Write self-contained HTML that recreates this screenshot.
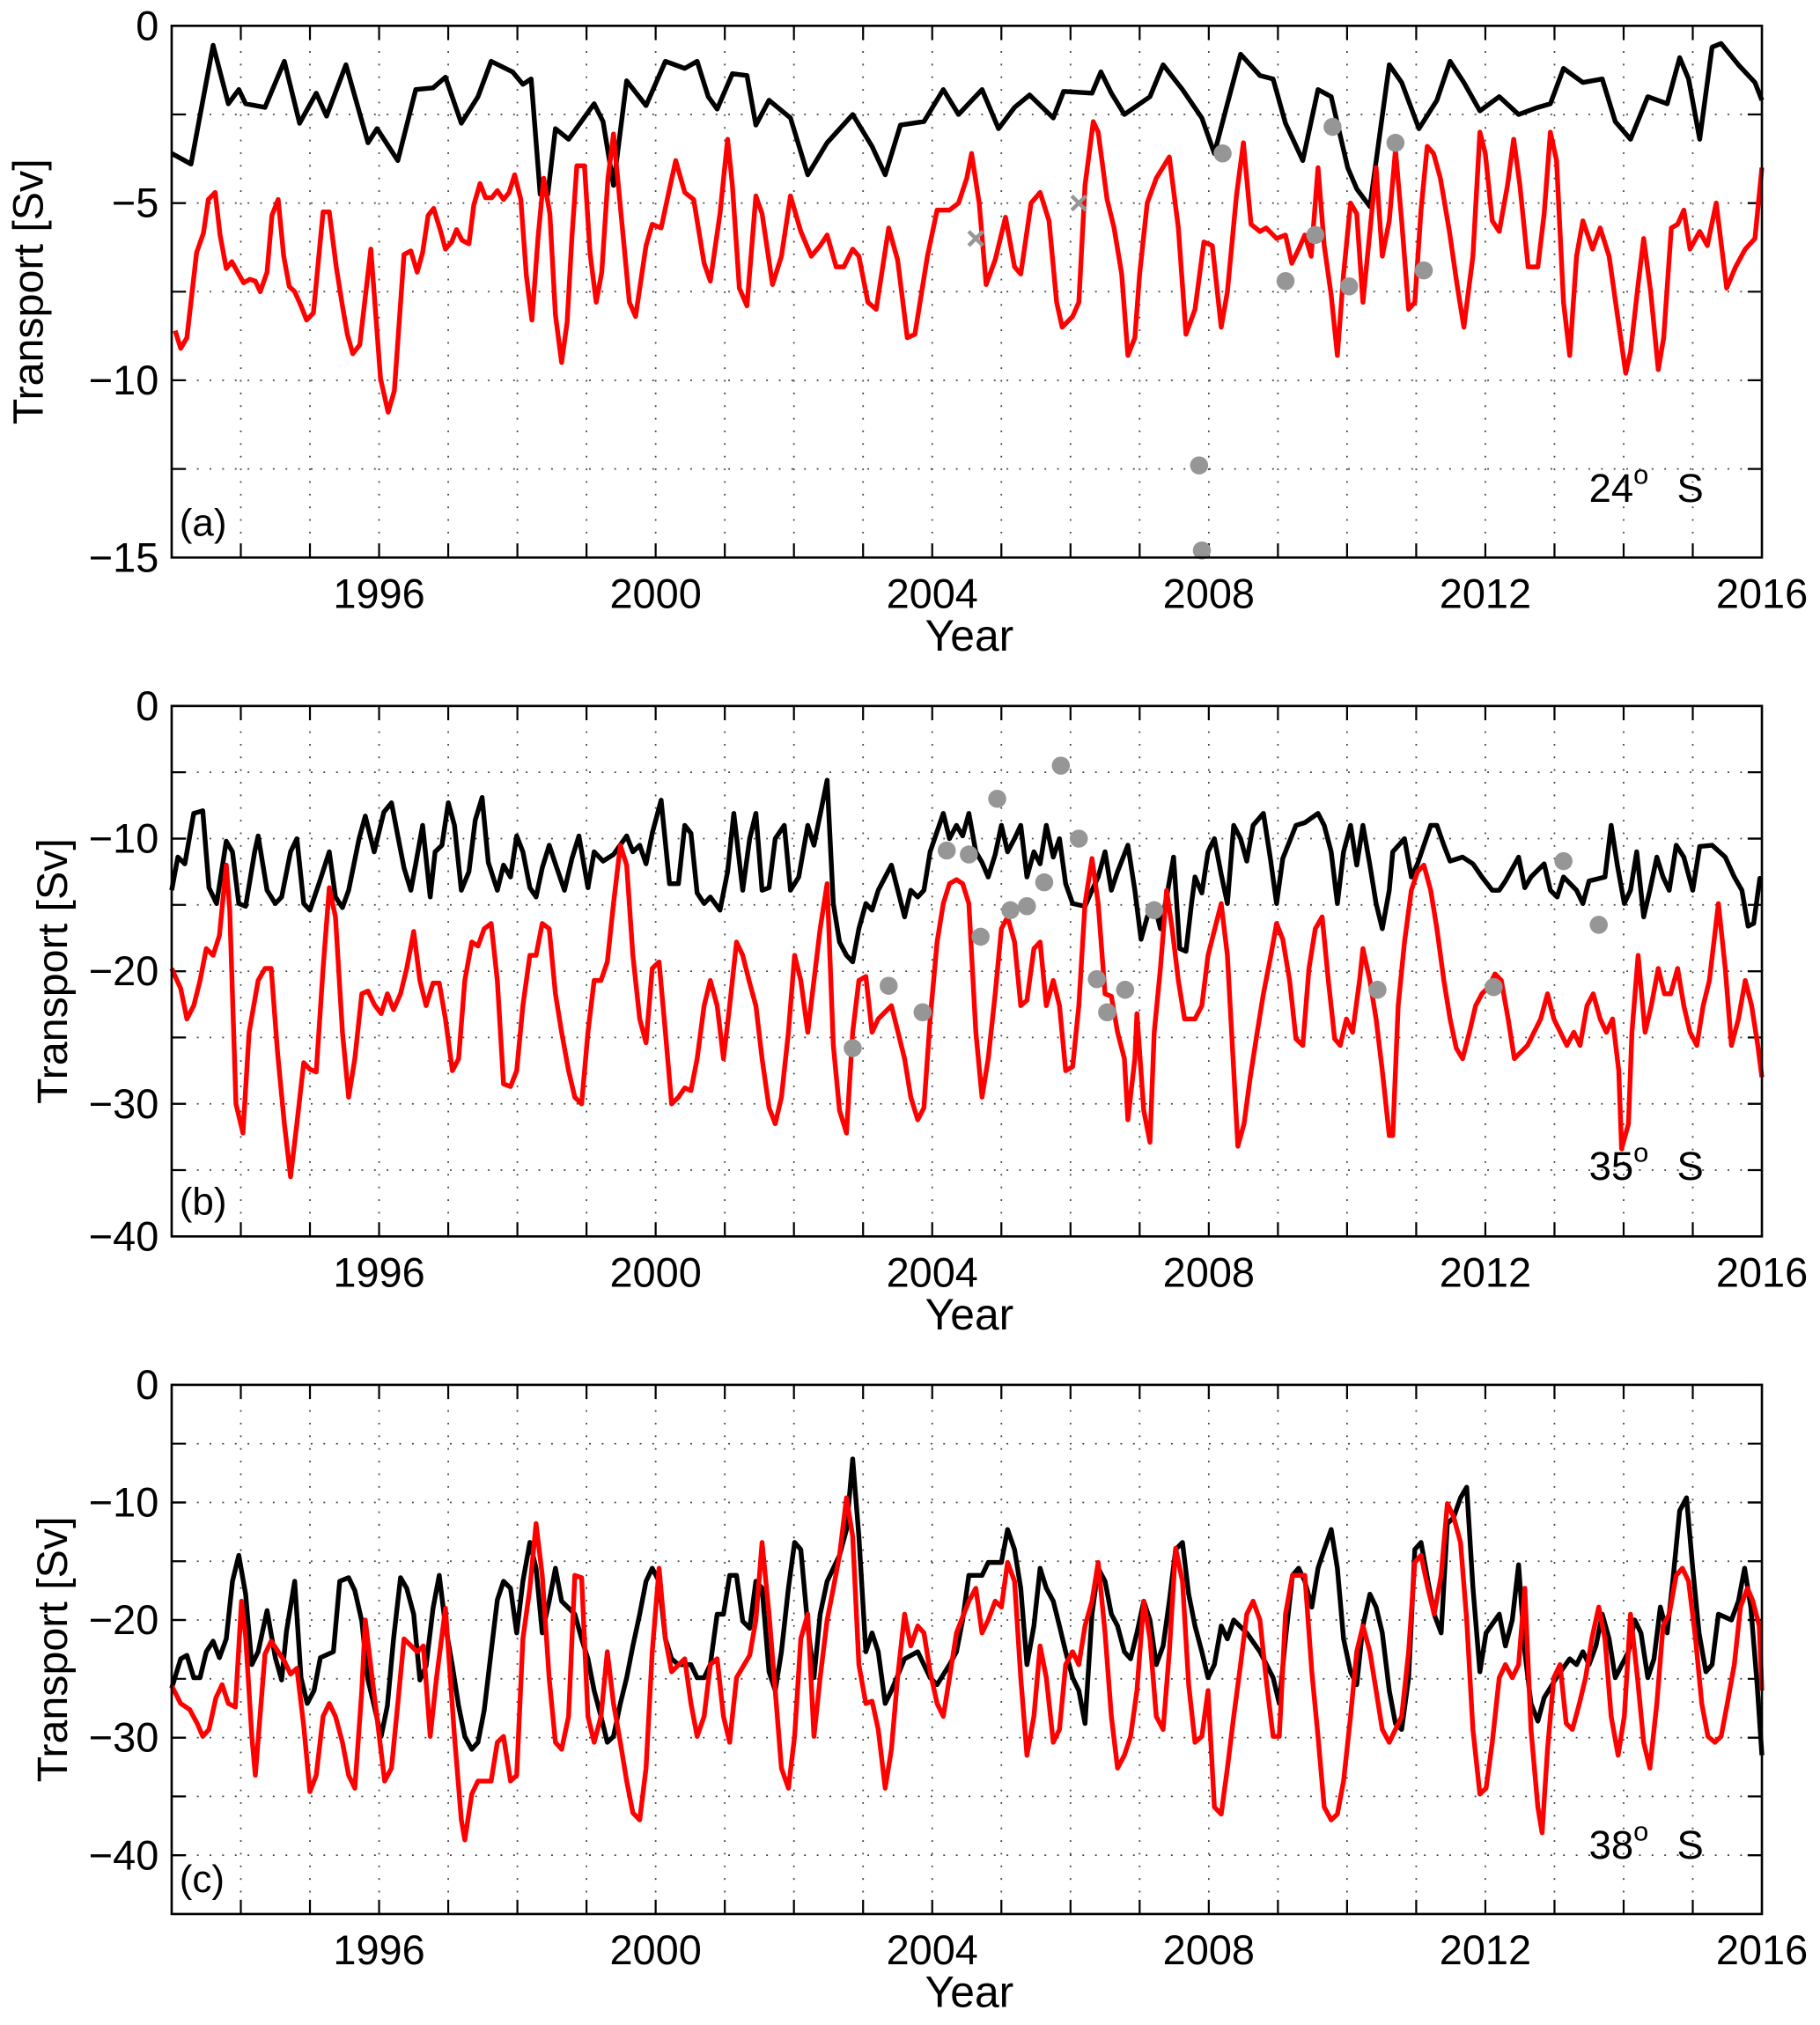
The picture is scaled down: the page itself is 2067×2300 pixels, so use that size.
<!DOCTYPE html>
<html><head><meta charset="utf-8"><title>Transport time series</title>
<style>html,body{margin:0;padding:0;background:#fff}svg{display:block}text{font-family:"Liberation Sans",Arial,sans-serif;fill:#000}</style>
</head><body>
<svg id="fig" width="2067" height="2300" viewBox="0 0 1410 1569" preserveAspectRatio="none" xmlns="http://www.w3.org/2000/svg"></svg>
<script>
// ---------- Panel (a) 24S ----------
const aBlackT=[1993.0,1993.28,1993.6,1993.82,1993.97,1994.07,1994.35,1994.63,1994.85,1995.09,1995.24,1995.52,1995.84,1995.97,1996.27,1996.53,1996.78,1996.96,1997.19,1997.43,1997.62,1997.93,1998.08,1998.2,1998.33,1998.44,1998.55,1998.74,1999.11,1999.24,1999.39,1999.58,1999.86,2000.14,2000.42,2000.6,2000.76,2000.89,2001.11,2001.32,2001.45,2001.64,2001.95,2002.2,2002.48,2002.85,2003.13,2003.32,2003.54,2003.88,2004.16,2004.38,2004.72,2004.96,2005.19,2005.41,2005.75,2005.9,2006.31,2006.44,2006.59,2006.78,2007.15,2007.34,2007.62,2007.9,2008.08,2008.27,2008.46,2008.74,2008.93,2009.11,2009.36,2009.58,2009.77,2010.01,2010.14,2010.33,2010.61,2010.79,2011.04,2011.3,2011.49,2011.69,2011.92,2012.2,2012.48,2012.76,2012.94,2013.13,2013.41,2013.69,2013.88,2014.1,2014.35,2014.63,2014.81,2014.94,2015.1,2015.28,2015.41,2015.66,2015.9,2016.0];
const aBlackV=[-3.6,-3.9,-0.55,-2.2,-1.8,-2.2,-2.3,-1.0,-2.75,-1.9,-2.55,-1.1,-3.3,-2.9,-3.8,-1.8,-1.75,-1.45,-2.75,-2.0,-1.0,-1.3,-1.65,-1.5,-4.75,-4.75,-2.9,-3.2,-2.2,-2.7,-4.5,-1.55,-2.25,-1.0,-1.2,-1.0,-2.0,-2.35,-1.35,-1.4,-2.8,-2.1,-2.6,-4.2,-3.3,-2.5,-3.4,-4.2,-2.8,-2.7,-1.8,-2.5,-1.8,-2.9,-2.3,-1.95,-2.6,-1.85,-1.9,-1.3,-1.9,-2.5,-2.0,-1.1,-1.8,-2.6,-3.6,-2.2,-0.8,-1.4,-1.5,-2.75,-3.8,-1.8,-2.0,-4.0,-4.6,-5.1,-1.1,-1.6,-2.9,-2.1,-1.0,-1.6,-2.4,-2.0,-2.5,-2.3,-2.2,-1.2,-1.6,-1.5,-2.7,-3.2,-2.0,-2.2,-0.9,-1.5,-3.2,-0.6,-0.5,-1.1,-1.6,-2.1];
const aRedT=[1993.05,1993.13,1993.22,1993.36,1993.46,1993.53,1993.63,1993.70,1993.79,1993.87,1994.04,1994.13,1994.21,1994.28,1994.38,1994.45,1994.54,1994.62,1994.70,1994.78,1994.87,1994.95,1995.05,1995.19,1995.28,1995.38,1995.47,1995.54,1995.62,1995.72,1995.88,1996.02,1996.13,1996.22,1996.36,1996.46,1996.55,1996.63,1996.71,1996.79,1996.89,1996.96,1997.05,1997.12,1997.2,1997.3,1997.37,1997.46,1997.54,1997.63,1997.71,1997.8,1997.88,1997.96,1998.05,1998.13,1998.21,1998.3,1998.38,1998.47,1998.55,1998.64,1998.72,1998.79,1998.86,1998.97,1999.05,1999.14,1999.22,1999.31,1999.39,1999.62,1999.71,1999.86,1999.95,2000.08,2000.2,2000.29,2000.42,2000.55,2000.7,2000.79,2000.93,2001.04,2001.11,2001.21,2001.32,2001.45,2001.54,2001.69,2001.82,2001.95,2002.1,2002.25,2002.38,2002.48,2002.61,2002.72,2002.85,2002.94,2003.07,2003.19,2003.37,2003.5,2003.64,2003.75,2003.93,2004.07,2004.25,2004.38,2004.5,2004.57,2004.68,2004.78,2004.91,2005.06,2005.19,2005.28,2005.43,2005.56,2005.69,2005.8,2005.88,2006.03,2006.12,2006.21,2006.33,2006.4,2006.53,2006.63,2006.74,2006.83,2006.93,2007.0,2007.11,2007.24,2007.43,2007.56,2007.67,2007.8,2007.93,2008.05,2008.18,2008.27,2008.4,2008.5,2008.61,2008.74,2008.83,2008.98,2009.11,2009.2,2009.3,2009.39,2009.48,2009.58,2009.67,2009.77,2009.86,2009.95,2010.05,2010.14,2010.23,2010.33,2010.42,2010.51,2010.61,2010.7,2010.79,2010.89,2010.98,2011.07,2011.16,2011.25,2011.35,2011.48,2011.59,2011.69,2011.82,2011.92,2012.0,2012.1,2012.2,2012.32,2012.41,2012.5,2012.62,2012.76,2012.85,2012.94,2013.03,2013.13,2013.22,2013.32,2013.41,2013.55,2013.66,2013.79,2013.92,2014.03,2014.1,2014.21,2014.29,2014.39,2014.5,2014.58,2014.69,2014.78,2014.87,2014.96,2015.1,2015.21,2015.34,2015.49,2015.62,2015.76,2015.9,2016.0];
const aRedV=[-8.6,-9.1,-8.8,-6.4,-5.85,-4.9,-4.7,-5.9,-6.85,-6.65,-7.25,-7.15,-7.2,-7.5,-6.95,-5.35,-4.9,-6.5,-7.35,-7.5,-7.9,-8.3,-8.1,-5.25,-5.25,-6.8,-7.9,-8.7,-9.25,-9.0,-6.3,-9.95,-10.9,-10.3,-6.45,-6.35,-6.95,-6.4,-5.35,-5.15,-5.8,-6.3,-6.1,-5.75,-6.05,-6.15,-5.05,-4.45,-4.85,-4.85,-4.65,-4.9,-4.7,-4.2,-4.9,-7.05,-8.3,-5.95,-4.3,-5.3,-8.15,-9.5,-8.35,-5.95,-3.95,-3.95,-6.4,-7.8,-6.95,-4.3,-3.05,-7.8,-8.2,-6.2,-5.6,-5.7,-4.6,-3.8,-4.7,-4.9,-6.7,-7.2,-5.3,-3.2,-4.5,-7.4,-7.9,-4.8,-5.3,-7.3,-6.5,-4.8,-5.8,-6.5,-6.2,-5.9,-6.8,-6.8,-6.3,-6.5,-7.8,-8.0,-5.7,-6.6,-8.8,-8.7,-6.5,-5.2,-5.2,-5.0,-4.3,-3.6,-5.0,-7.3,-6.6,-5.4,-6.8,-7.0,-5.0,-4.7,-5.5,-7.8,-8.5,-8.2,-7.8,-4.5,-2.7,-3.0,-4.9,-5.7,-7.0,-9.3,-8.8,-7.0,-5.0,-4.3,-3.7,-5.7,-8.7,-8.0,-6.1,-6.2,-8.5,-7.5,-4.8,-3.3,-5.6,-5.8,-5.7,-6.0,-5.9,-6.7,-6.3,-5.9,-6.5,-4.0,-6.2,-7.6,-9.3,-7.0,-5.0,-5.3,-7.8,-5.8,-4.0,-6.5,-5.5,-3.5,-5.5,-8.0,-7.8,-5.2,-3.4,-3.6,-4.3,-5.8,-7.3,-8.5,-6.5,-3.0,-3.6,-5.5,-5.8,-4.5,-3.2,-4.5,-6.8,-6.8,-5.3,-3.0,-3.8,-7.8,-9.3,-6.5,-5.5,-6.3,-5.7,-6.5,-8.3,-9.8,-9.2,-7.3,-6.0,-7.5,-9.7,-8.8,-5.7,-5.6,-5.2,-6.3,-5.8,-6.2,-5.0,-7.4,-6.8,-6.3,-6.0,-4.0];
const aDotT=[2007.9,2007.86,2008.2,2009.11,2009.54,2009.79,2010.03,2010.7,2011.11];
const aDotV=[-14.8,-12.4,-3.6,-7.2,-5.9,-2.85,-7.35,-3.3,-6.9];
const aCrossT=[2004.63,2006.12];
const aCrossV=[-6.0,-5.0];

// ---------- Panel (b) 35S ----------
const bBlackT=[1993.0,1993.09,1993.19,1993.32,1993.45,1993.54,1993.65,1993.79,1993.88,1993.97,1994.07,1994.2,1994.25,1994.38,1994.5,1994.59,1994.72,1994.81,1994.91,1995.0,1995.13,1995.28,1995.37,1995.47,1995.56,1995.71,1995.8,1995.93,1996.07,1996.18,1996.27,1996.36,1996.46,1996.53,1996.63,1996.74,1996.81,1996.91,1997.0,1997.09,1997.19,1997.3,1997.39,1997.49,1997.58,1997.71,1997.8,1997.9,1997.99,1998.08,1998.18,1998.27,1998.36,1998.46,1998.55,1998.68,1998.79,1998.89,1999.02,1999.11,1999.24,1999.39,1999.58,1999.67,1999.77,1999.86,1999.95,2000.08,2000.2,2000.33,2000.42,2000.51,2000.6,2000.7,2000.79,2000.93,2001.04,2001.13,2001.26,2001.36,2001.45,2001.54,2001.64,2001.73,2001.86,2001.95,2002.07,2002.2,2002.29,2002.48,2002.57,2002.66,2002.76,2002.85,2002.94,2003.04,2003.13,2003.22,2003.41,2003.6,2003.69,2003.79,2003.88,2003.97,2004.16,2004.25,2004.35,2004.44,2004.53,2004.63,2004.72,2004.81,2004.91,2005.0,2005.09,2005.19,2005.28,2005.37,2005.47,2005.56,2005.65,2005.75,2005.84,2005.93,2006.03,2006.21,2006.31,2006.4,2006.5,2006.59,2006.68,2006.83,2006.93,2007.02,2007.11,2007.21,2007.3,2007.39,2007.49,2007.58,2007.67,2007.75,2007.8,2007.9,2007.99,2008.08,2008.18,2008.27,2008.36,2008.46,2008.55,2008.64,2008.79,2008.89,2008.98,2009.07,2009.26,2009.39,2009.58,2009.67,2009.77,2009.86,2009.95,2010.05,2010.14,2010.23,2010.33,2010.42,2010.51,2010.61,2010.66,2010.83,2010.93,2011.02,2011.21,2011.3,2011.4,2011.49,2011.67,2011.82,2011.95,2012.1,2012.2,2012.29,2012.48,2012.57,2012.66,2012.85,2012.94,2013.04,2013.13,2013.32,2013.41,2013.5,2013.73,2013.82,2013.91,2014.01,2014.1,2014.19,2014.29,2014.38,2014.48,2014.57,2014.66,2014.76,2014.87,2015.0,2015.1,2015.28,2015.47,2015.6,2015.71,2015.8,2015.88,2015.97,2016.0];
const bBlackV=[-13.9,-11.4,-11.9,-8.1,-7.9,-13.7,-14.9,-10.2,-11.0,-14.9,-15.1,-11.0,-9.8,-13.9,-14.9,-14.4,-11.0,-10.0,-14.9,-15.4,-13.4,-11.0,-14.4,-15.2,-13.9,-10.0,-8.3,-11.0,-8.0,-7.3,-9.8,-12.2,-13.9,-11.9,-9.0,-14.4,-11.0,-10.5,-7.3,-9.0,-13.9,-12.5,-8.6,-6.9,-11.8,-13.9,-12.0,-12.9,-9.8,-11.0,-13.7,-14.4,-12.2,-10.5,-11.9,-13.9,-11.5,-9.8,-13.7,-11.0,-11.7,-11.2,-9.8,-11.0,-10.5,-11.9,-9.6,-7.1,-13.4,-13.4,-9.0,-9.6,-14.1,-14.9,-14.4,-15.4,-12.5,-8.1,-13.9,-10.0,-8.1,-13.9,-13.7,-10.0,-9.0,-13.9,-12.9,-9.0,-10.5,-5.6,-14.9,-17.8,-18.8,-19.3,-16.8,-14.9,-15.4,-13.9,-12.0,-15.9,-13.9,-14.4,-13.9,-11.0,-8.1,-10.0,-9.0,-9.8,-8.1,-11.0,-11.8,-12.9,-11.2,-9.0,-11.0,-10.0,-9.0,-12.9,-11.0,-11.9,-9.0,-11.4,-10.0,-13.4,-14.9,-15.1,-13.9,-12.9,-11.0,-13.9,-12.5,-10.5,-13.9,-17.6,-15.9,-14.9,-16.8,-14.4,-11.4,-18.3,-18.5,-14.9,-12.9,-14.1,-11.0,-10.0,-12.7,-14.9,-9.0,-10.0,-11.7,-9.0,-8.1,-11.5,-14.9,-11.5,-9.0,-8.8,-8.1,-9.0,-11.0,-14.9,-11.0,-9.0,-12.0,-9.0,-12.0,-14.9,-16.8,-13.9,-11.0,-10.0,-12.9,-11.9,-9.0,-9.0,-10.5,-11.7,-11.4,-11.9,-12.9,-13.9,-13.9,-13.2,-11.4,-13.7,-12.9,-11.9,-13.9,-14.4,-12.9,-13.9,-14.9,-13.2,-12.9,-9.0,-12.0,-14.9,-13.9,-11.0,-15.9,-13.9,-11.4,-12.9,-13.9,-10.5,-11.4,-13.9,-10.6,-10.5,-11.4,-12.9,-13.9,-16.6,-16.4,-13.0,-13.0];
const bRedT=[1993.0,1993.13,1993.22,1993.32,1993.41,1993.5,1993.6,1993.69,1993.79,1993.84,1993.93,1994.03,1994.12,1994.25,1994.35,1994.44,1994.53,1994.63,1994.72,1994.81,1994.91,1995.0,1995.09,1995.19,1995.28,1995.37,1995.47,1995.56,1995.65,1995.75,1995.84,1995.93,1996.03,1996.12,1996.21,1996.31,1996.4,1996.5,1996.59,1996.68,1996.78,1996.87,1996.96,1997.06,1997.15,1997.24,1997.34,1997.43,1997.52,1997.62,1997.71,1997.8,1997.9,1997.99,1998.08,1998.18,1998.27,1998.36,1998.46,1998.55,1998.64,1998.74,1998.83,1998.93,1999.02,1999.11,1999.21,1999.3,1999.39,1999.49,1999.58,1999.67,1999.77,1999.86,1999.95,2000.05,2000.14,2000.23,2000.33,2000.42,2000.51,2000.6,2000.7,2000.79,2000.89,2000.98,2001.07,2001.17,2001.26,2001.36,2001.45,2001.54,2001.64,2001.73,2001.82,2001.92,2002.01,2002.1,2002.2,2002.29,2002.38,2002.48,2002.57,2002.66,2002.76,2002.85,2002.94,2003.04,2003.13,2003.22,2003.41,2003.6,2003.69,2003.79,2003.88,2003.97,2004.07,2004.16,2004.25,2004.35,2004.44,2004.53,2004.63,2004.72,2004.81,2004.91,2005.0,2005.09,2005.19,2005.28,2005.37,2005.47,2005.56,2005.65,2005.75,2005.84,2005.93,2006.03,2006.12,2006.21,2006.31,2006.4,2006.5,2006.59,2006.68,2006.78,2006.83,2006.93,2006.96,2007.06,2007.15,2007.21,2007.3,2007.39,2007.47,2007.56,2007.65,2007.8,2007.9,2007.99,2008.18,2008.27,2008.36,2008.42,2008.51,2008.6,2008.7,2008.79,2008.89,2008.98,2009.07,2009.17,2009.26,2009.36,2009.45,2009.54,2009.64,2009.73,2009.82,2009.9,2009.99,2010.08,2010.18,2010.23,2010.33,2010.42,2010.51,2010.61,2010.66,2010.74,2010.83,2010.93,2011.02,2011.11,2011.21,2011.3,2011.4,2011.49,2011.58,2011.67,2011.77,2011.86,2011.95,2012.05,2012.14,2012.23,2012.33,2012.42,2012.61,2012.8,2012.9,2012.99,2013.18,2013.28,2013.37,2013.47,2013.56,2013.66,2013.75,2013.84,2013.93,2013.97,2014.07,2014.12,2014.21,2014.31,2014.4,2014.5,2014.59,2014.68,2014.78,2014.87,2014.96,2015.06,2015.15,2015.24,2015.37,2015.47,2015.56,2015.66,2015.76,2015.85,2015.94,2016.0];
const bRedV=[-19.8,-21.3,-23.6,-22.6,-20.7,-18.3,-18.8,-17.3,-12.0,-15.4,-30.0,-32.2,-24.6,-20.7,-19.8,-19.8,-26.1,-31.5,-35.5,-31.5,-26.9,-27.4,-27.6,-19.8,-13.7,-15.9,-24.6,-29.5,-26.6,-21.7,-21.5,-22.5,-23.2,-21.7,-22.9,-21.7,-19.8,-17.0,-20.7,-22.6,-20.9,-20.9,-23.6,-27.5,-26.6,-20.7,-17.8,-18.1,-16.8,-16.4,-20.7,-28.5,-28.7,-27.5,-22.6,-18.8,-18.8,-16.4,-16.8,-21.7,-24.6,-27.5,-29.5,-30.0,-24.6,-20.7,-20.7,-19.3,-14.9,-10.5,-12.0,-18.8,-23.6,-25.4,-19.8,-19.3,-24.6,-30.0,-29.5,-28.8,-29.0,-26.6,-22.6,-20.7,-22.6,-26.6,-22.6,-17.8,-18.8,-20.9,-22.6,-26.6,-30.3,-31.5,-29.5,-24.6,-18.8,-20.7,-24.6,-20.7,-16.8,-13.4,-25.6,-30.5,-32.2,-24.6,-20.7,-20.4,-24.6,-23.6,-22.6,-26.6,-29.5,-31.2,-30.3,-23.6,-17.8,-14.9,-13.4,-13.1,-13.4,-14.9,-24.6,-29.5,-26.6,-21.7,-16.8,-15.9,-17.8,-22.6,-22.2,-18.3,-17.8,-22.6,-20.7,-22.6,-27.5,-27.2,-22.6,-14.9,-11.5,-14.9,-21.7,-21.9,-24.6,-26.6,-31.2,-26.6,-23.2,-30.5,-32.9,-24.6,-19.8,-13.9,-16.8,-20.7,-23.6,-23.6,-22.6,-18.8,-14.9,-18.8,-27.5,-33.2,-31.5,-28.0,-24.6,-21.7,-19.0,-16.4,-17.6,-20.7,-25.1,-25.6,-19.8,-16.8,-15.9,-20.7,-25.1,-25.6,-23.6,-24.6,-20.7,-18.3,-20.7,-23.6,-27.5,-32.4,-32.4,-22.6,-17.8,-13.9,-12.5,-12.0,-13.9,-16.8,-20.7,-23.6,-25.8,-26.6,-24.6,-22.6,-21.7,-21.2,-20.2,-20.7,-23.6,-26.6,-25.6,-23.6,-21.7,-23.6,-25.6,-24.6,-25.6,-22.6,-21.7,-23.6,-24.6,-23.6,-27.5,-33.4,-31.5,-24.6,-18.8,-24.6,-22.6,-19.8,-21.7,-21.7,-19.8,-22.6,-24.6,-25.6,-22.6,-20.7,-14.9,-19.8,-25.6,-23.6,-20.7,-22.6,-25.6,-28.0];
const bDotT=[2002.85,2003.37,2003.86,2004.21,2004.53,2004.7,2004.94,2005.13,2005.37,2005.62,2005.86,2006.12,2006.38,2006.53,2006.79,2007.21,2010.44,2012.12,2013.13,2013.64];
const bDotV=[-25.8,-21.1,-23.1,-10.9,-11.2,-17.4,-7.0,-15.4,-15.1,-13.3,-4.5,-10.0,-20.6,-23.1,-21.4,-15.4,-21.4,-21.2,-11.7,-16.5];

// ---------- Panel (c) 38S ----------
const cBlackT=[1993.0,1993.13,1993.22,1993.32,1993.41,1993.5,1993.6,1993.69,1993.79,1993.88,1993.97,1994.07,1994.16,1994.25,1994.38,1994.5,1994.59,1994.66,1994.78,1994.87,1994.96,1995.06,1995.15,1995.34,1995.43,1995.56,1995.65,1995.75,1995.84,1995.93,1996.03,1996.12,1996.21,1996.31,1996.4,1996.5,1996.59,1996.68,1996.78,1996.87,1996.96,1997.06,1997.15,1997.24,1997.34,1997.43,1997.52,1997.62,1997.71,1997.8,1997.9,1997.99,1998.08,1998.18,1998.27,1998.36,1998.46,1998.55,1998.64,1998.83,1998.93,1999.02,1999.11,1999.21,1999.3,1999.39,1999.49,1999.58,1999.67,1999.77,1999.86,1999.95,2000.05,2000.14,2000.23,2000.33,2000.51,2000.6,2000.7,2000.79,2000.89,2000.98,2001.07,2001.17,2001.26,2001.36,2001.45,2001.54,2001.64,2001.73,2001.82,2001.92,2002.01,2002.1,2002.2,2002.29,2002.38,2002.48,2002.66,2002.76,2002.85,2002.94,2003.04,2003.13,2003.22,2003.32,2003.41,2003.6,2003.79,2003.97,2004.07,2004.25,2004.35,2004.44,2004.53,2004.72,2004.81,2005.0,2005.09,2005.19,2005.28,2005.37,2005.47,2005.56,2005.65,2005.75,2005.84,2005.93,2006.03,2006.12,2006.21,2006.31,2006.4,2006.5,2006.59,2006.68,2006.78,2006.87,2006.96,2007.06,2007.15,2007.24,2007.34,2007.43,2007.52,2007.62,2007.71,2007.8,2007.9,2007.99,2008.08,2008.18,2008.27,2008.36,2008.55,2008.74,2008.93,2009.02,2009.11,2009.21,2009.3,2009.39,2009.49,2009.58,2009.67,2009.77,2009.86,2009.95,2010.05,2010.14,2010.23,2010.33,2010.42,2010.51,2010.61,2010.7,2010.79,2010.89,2010.98,2011.07,2011.17,2011.26,2011.36,2011.45,2011.54,2011.64,2011.73,2011.82,2011.92,2012.01,2012.2,2012.29,2012.39,2012.48,2012.57,2012.66,2012.76,2012.85,2013.04,2013.22,2013.32,2013.41,2013.5,2013.6,2013.69,2013.79,2013.88,2014.07,2014.16,2014.25,2014.35,2014.44,2014.53,2014.63,2014.72,2014.81,2014.91,2015.0,2015.09,2015.19,2015.28,2015.37,2015.56,2015.66,2015.75,2015.84,2015.93,2016.0];
const cBlackV=[-25.8,-23.3,-23.0,-24.9,-24.9,-22.7,-21.8,-23.2,-21.6,-16.7,-14.5,-17.8,-23.8,-22.7,-19.2,-23.2,-25.1,-21.0,-16.7,-24.9,-27.1,-26.0,-23.2,-22.7,-16.7,-16.4,-17.5,-20.1,-25.1,-27.3,-29.9,-27.3,-21.6,-16.4,-17.3,-19.5,-25.1,-23.9,-19.0,-16.2,-20.5,-23.9,-27.3,-29.9,-31.0,-30.4,-27.7,-22.7,-18.3,-16.7,-17.3,-21.1,-16.7,-13.4,-15.6,-21.1,-18.4,-15.6,-18.4,-19.5,-21.6,-23.3,-26.0,-28.2,-30.4,-29.9,-27.1,-24.9,-22.2,-19.5,-16.7,-15.6,-16.7,-21.6,-23.3,-23.8,-23.8,-24.9,-24.9,-23.8,-19.5,-19.5,-16.2,-16.2,-20.1,-20.7,-16.7,-17.3,-24.4,-26.0,-22.7,-17.3,-13.4,-14.0,-20.5,-24.9,-19.5,-16.7,-14.5,-12.3,-6.3,-12.9,-22.7,-21.1,-22.7,-27.1,-26.0,-23.3,-22.7,-24.9,-25.5,-23.8,-22.7,-20.0,-16.2,-16.2,-15.1,-15.1,-12.3,-14.0,-17.3,-23.8,-20.5,-15.6,-17.3,-18.4,-20.5,-22.7,-24.9,-26.0,-28.8,-19.5,-15.6,-16.7,-19.5,-20.5,-22.7,-23.3,-21.1,-18.4,-20.0,-23.8,-22.2,-18.4,-14.0,-13.4,-17.8,-20.5,-22.7,-24.9,-23.8,-20.5,-21.6,-20.0,-21.1,-22.7,-24.9,-27.1,-21.6,-16.2,-15.6,-16.7,-18.9,-15.6,-14.0,-12.3,-15.6,-21.6,-24.4,-25.5,-20.5,-17.8,-18.9,-21.1,-26.0,-28.8,-29.3,-24.9,-14.0,-13.4,-16.7,-19.5,-21.1,-11.8,-11.3,-9.6,-8.7,-17.2,-24.4,-21.1,-19.5,-22.2,-20.0,-15.3,-22.7,-27.1,-28.6,-26.6,-24.8,-23.3,-23.8,-22.7,-23.8,-22.2,-19.5,-21.6,-24.9,-22.7,-20.0,-21.1,-24.9,-23.3,-18.9,-21.1,-16.2,-10.7,-9.6,-15.6,-21.1,-24.4,-23.8,-19.5,-20.0,-18.4,-15.6,-18.9,-25.5,-31.5];
const cRedT=[1993.0,1993.13,1993.26,1993.37,1993.45,1993.54,1993.64,1993.73,1993.82,1993.92,1994.01,1994.07,1994.16,1994.21,1994.35,1994.44,1994.63,1994.72,1994.81,1994.91,1995.0,1995.09,1995.19,1995.28,1995.37,1995.47,1995.56,1995.65,1995.75,1995.8,1995.9,1995.99,1996.08,1996.18,1996.27,1996.36,1996.55,1996.64,1996.74,1996.83,1996.96,1997.09,1997.19,1997.24,1997.34,1997.43,1997.62,1997.71,1997.8,1997.9,1997.99,1998.08,1998.18,1998.27,1998.36,1998.46,1998.55,1998.64,1998.74,1998.83,1998.93,1999.02,1999.11,1999.21,1999.3,1999.39,1999.49,1999.58,1999.67,1999.77,1999.86,1999.95,2000.05,2000.14,2000.23,2000.42,2000.51,2000.6,2000.7,2000.79,2000.89,2000.98,2001.07,2001.17,2001.36,2001.45,2001.54,2001.64,2001.73,2001.82,2001.92,2002.01,2002.1,2002.2,2002.29,2002.38,2002.48,2002.57,2002.66,2002.76,2002.85,2002.94,2003.04,2003.13,2003.22,2003.32,2003.41,2003.5,2003.6,2003.69,2003.79,2003.88,2003.97,2004.07,2004.16,2004.25,2004.35,2004.53,2004.63,2004.72,2004.81,2004.91,2005.0,2005.09,2005.19,2005.28,2005.37,2005.47,2005.56,2005.65,2005.75,2005.84,2005.93,2006.03,2006.12,2006.21,2006.31,2006.4,2006.5,2006.59,2006.68,2006.78,2006.87,2006.96,2007.06,2007.15,2007.24,2007.34,2007.43,2007.52,2007.62,2007.71,2007.8,2007.9,2007.99,2008.08,2008.18,2008.27,2008.36,2008.46,2008.55,2008.64,2008.74,2008.83,2008.93,2009.02,2009.11,2009.21,2009.39,2009.49,2009.58,2009.67,2009.77,2009.86,2009.95,2010.05,2010.14,2010.23,2010.33,2010.42,2010.51,2010.61,2010.79,2010.89,2010.98,2011.07,2011.17,2011.26,2011.36,2011.45,2011.54,2011.64,2011.73,2011.82,2011.92,2012.01,2012.1,2012.2,2012.29,2012.39,2012.48,2012.57,2012.66,2012.76,2012.82,2012.9,2012.99,2013.08,2013.17,2013.26,2013.36,2013.45,2013.54,2013.64,2013.73,2013.82,2013.92,2014.01,2014.1,2014.2,2014.29,2014.38,2014.48,2014.57,2014.66,2014.76,2014.85,2014.94,2015.04,2015.13,2015.22,2015.32,2015.41,2015.5,2015.6,2015.69,2015.79,2015.87,2015.96,2016.0];
const cRedV=[-25.6,-27.1,-27.6,-28.8,-29.9,-29.3,-26.6,-25.5,-27.1,-27.4,-18.4,-21.4,-29.9,-33.2,-22.9,-21.8,-23.5,-24.6,-24.1,-29.0,-34.6,-33.2,-28.2,-27.1,-28.2,-30.4,-33.2,-34.3,-26.0,-20.0,-24.9,-29.3,-33.7,-32.6,-27.1,-21.6,-22.7,-22.2,-29.9,-24.9,-19.0,-29.9,-37.0,-38.7,-34.8,-33.7,-33.7,-30.4,-29.9,-33.7,-33.2,-21.6,-17.3,-11.8,-16.2,-25.0,-30.4,-31.0,-28.2,-16.2,-16.4,-28.2,-30.4,-28.2,-22.7,-27.1,-30.4,-33.7,-36.4,-37.0,-32.6,-22.7,-15.6,-21.6,-24.4,-23.3,-27.1,-29.9,-28.2,-23.8,-23.3,-28.2,-30.4,-24.9,-23.0,-20.0,-13.4,-19.5,-26.0,-32.6,-34.3,-29.9,-21.6,-19.5,-29.9,-24.9,-20.0,-17.3,-14.5,-9.6,-12.9,-23.8,-27.1,-26.9,-29.3,-34.3,-31.0,-24.9,-19.5,-22.2,-20.5,-21.1,-24.4,-27.1,-28.2,-24.9,-21.1,-18.4,-17.3,-21.1,-20.0,-18.4,-18.9,-15.1,-16.7,-24.9,-31.5,-28.2,-22.2,-24.9,-30.4,-29.3,-23.8,-22.7,-23.8,-20.5,-18.4,-15.1,-21.1,-28.2,-32.6,-31.5,-29.9,-26.0,-18.4,-21.6,-28.2,-29.3,-22.7,-13.9,-16.7,-25.5,-30.4,-29.9,-26.0,-35.9,-36.5,-32.6,-28.2,-23.8,-19.5,-18.4,-20.0,-25.0,-29.9,-29.9,-19.5,-16.2,-16.2,-24.4,-29.9,-35.9,-37.0,-36.5,-33.7,-28.2,-22.7,-20.5,-22.7,-26.0,-29.3,-30.4,-28.2,-22.7,-15.1,-14.5,-17.3,-19.5,-16.2,-10.1,-11.2,-13.4,-20.0,-29.3,-34.8,-34.3,-30.4,-24.9,-23.8,-24.9,-23.8,-17.3,-29.3,-35.9,-38.1,-31.0,-24.9,-23.8,-28.8,-29.3,-27.1,-24.9,-21.6,-18.9,-21.6,-28.2,-31.5,-28.2,-19.5,-24.9,-30.4,-32.6,-27.1,-20.5,-19.5,-16.2,-15.6,-16.7,-21.6,-27.1,-29.9,-30.4,-29.9,-27.1,-23.8,-18.9,-17.3,-18.4,-20.5,-26.0];

// ---------- axes / labels ----------
const xTickYears=[1994,1995,1996,1997,1998,1999,2000,2001,2002,2003,2004,2005,2006,2007,2008,2009,2010,2011,2012,2013,2014,2015];
const xLabelYears=[1996,2000,2004,2008,2012,2016];
const aYGrid=[-2.5,-5,-7.5,-10,-12.5];
const aYLabels=[0,-5,-10,-15];
const bYGrid=[-5,-10,-15,-20,-25,-30,-35];
const bYLabels=[0,-10,-20,-30,-40];
const cYGrid=[-5,-10,-15,-20,-25,-30,-35,-40];
const cYLabels=[0,-10,-20,-30,-40];

const NS='http://www.w3.org/2000/svg';
const svg=document.getElementById('fig');
const L=133,R=1365,X0=1993,X1=2016;
function mk(tag,attrs,parent){const e=document.createElementNS(NS,tag);for(const k in attrs)e.setAttribute(k,attrs[k]);(parent||svg).appendChild(e);return e;}
function sx(t){return L+(t-X0)/(X1-X0)*(R-L);}

function panel(id,top,bottom,ymin,grid,labels){
  const g=mk('g',{});
  
  
  const sy=v=>top+(0-v)/(0-ymin)*(bottom-top);
  xTickYears.forEach(y=>{const l=mk('line',{x1:sx(y),x2:sx(y),y1:top,y2:bottom,stroke:'#444','stroke-width':1.2,'stroke-dasharray':'1.3 8.5'},g);
    
    });
  grid.forEach(v=>{const l=mk('line',{x1:L,x2:R,y1:sy(v),y2:sy(v),stroke:'#444','stroke-width':1.2,'stroke-dasharray':'1.3 8.5'},g);
    
    });
  xTickYears.forEach(y=>{const X=sx(y);
    mk('line',{x1:X,x2:X,y1:bottom,y2:bottom-11,stroke:'#000','stroke-width':1.5},g);
    mk('line',{x1:X,x2:X,y1:top,y2:top+11,stroke:'#000','stroke-width':1.5},g);});
  grid.concat(labels).forEach(v=>{const Y=sy(v);
    mk('line',{x1:L,x2:L+11,y1:Y,y2:Y,stroke:'#000','stroke-width':1.5},g);
    mk('line',{x1:R,x2:R-11,y1:Y,y2:Y,stroke:'#000','stroke-width':1.5},g);});
  return {g,sy};
}
function line(g,sy,T,V,color,name){
  const d=T.map((t,i)=>(i?'L':'M')+sx(t).toFixed(1)+' '+sy(V[i]).toFixed(1)).join(' ');
  const p=mk('path',{d:d,fill:'none',stroke:color,'stroke-width':3.7,'stroke-linejoin':'round'},g);
  
  
}
function dots(g,sy,T,V,name){
  T.forEach((t,i)=>{const c=mk('circle',{cx:sx(t),cy:sy(V[i]),r:7,fill:'#969696'},g);
    
    });
}
function frame(g,top,bottom,labels,sy,ylabX,letter,lat,latY,id){
  const f=mk('rect',{x:L,y:top,width:R-L,height:bottom-top,fill:'none',stroke:'#000','stroke-width':1.8},g);
  
  
  labels.forEach(v=>{const t=mk('text',{x:123,y:sy(v)+11,'text-anchor':'end','font-size':32},g);t.textContent=v===0?'0':'\u2212'+Math.abs(v);
    
    });
  xLabelYears.forEach(y=>{const t=mk('text',{x:sx(y),y:bottom+39,'text-anchor':'middle','font-size':32},g);t.textContent=y;
    
    });
  const xl=mk('text',{x:751,y:bottom+72,'text-anchor':'middle','font-size':34},g);xl.textContent='Year';
  
  
  const yl=mk('text',{x:ylabX,y:(top+bottom)/2,'text-anchor':'middle','font-size':33,transform:'rotate(-90 '+ylabX+' '+(top+bottom)/2+')'},g);yl.textContent='Transport [Sv]';
  
  
  const pl=mk('text',{x:139,y:bottom-17,'font-size':30},g);pl.textContent='('+letter+')';
  
  
  const la=mk('text',{x:1231,y:latY,'font-size':31},g);
  
  
  const s1=mk('tspan',{},la);s1.textContent=lat;
  const s2=mk('tspan',{dy:-14,'font-size':21},la);s2.textContent='o';
  const s3=mk('tspan',{dy:14,dx:22},la);s3.textContent='S';
}

let P=panel('a',20,432,-15,aYGrid,aYLabels);
line(P.g,P.sy,aBlackT,aBlackV,'#000','series-black-24s');
line(P.g,P.sy,aRedT,aRedV,'#ff0000','series-red-24s');
dots(P.g,P.sy,aDotT,aDotV,'obs-dot-24s');
aCrossT.forEach((t,i)=>{const X=sx(t),Y=P.sy(aCrossV[i]);
  const c=mk('path',{d:`M${X-5.5} ${Y-5.5}L${X+5.5} ${Y+5.5}M${X-5.5} ${Y+5.5}L${X+5.5} ${Y-5.5}`,stroke:'#969696','stroke-width':3},P.g);
  
  });
frame(P.g,20,432,aYLabels,P.sy,33,'a','24',389,'a');

P=panel('b',547,958,-40,bYGrid,bYLabels);
line(P.g,P.sy,bBlackT,bBlackV,'#000','series-black-35s');
line(P.g,P.sy,bRedT,bRedV,'#ff0000','series-red-35s');
dots(P.g,P.sy,bDotT,bDotV,'obs-dot-35s');
frame(P.g,547,958,bYLabels,P.sy,52,'b','35',914,'b');

P=panel('c',1073,1483,-45,cYGrid,cYLabels);
line(P.g,P.sy,cBlackT,cBlackV,'#000','series-black-38s');
line(P.g,P.sy,cRedT,cRedV,'#ff0000','series-red-38s');
frame(P.g,1073,1483,cYLabels,P.sy,52,'c','38',1440,'c');
</script>
</body></html>
